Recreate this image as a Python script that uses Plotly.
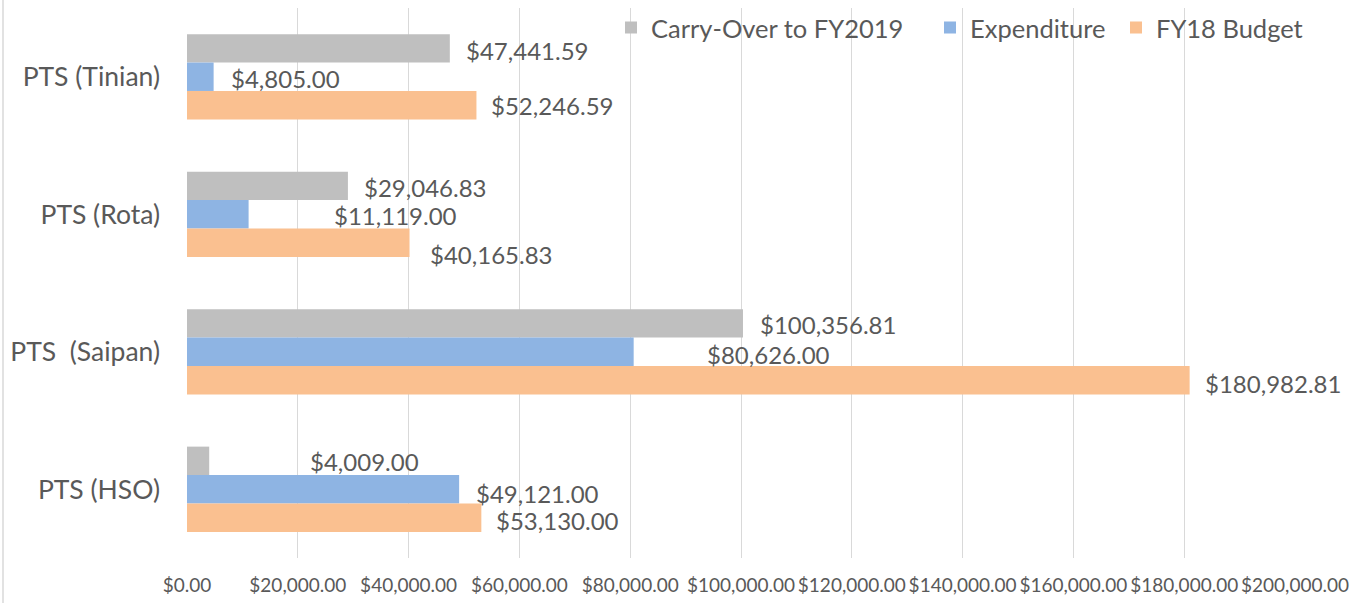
import plotly.graph_objects as go

# ---- data (top-to-bottom reading order) ----
categories = ["PTS (Tinian)", "PTS (Rota)", "PTS \u00a0(Saipan)", "PTS (HSO)"]
series_names = ["Carry-Over to FY2019", "Expenditure", "FY18 Budget"]
carry_over = [47441.59, 29046.83, 100356.81, 4009.00]
expenditure = [4805.00, 11119.00, 80626.00, 49121.00]
fy18_budget = [52246.59, 40165.83, 180982.81, 53130.00]
x_tick_values = [0, 20000, 40000, 60000, 80000, 100000, 120000, 140000, 160000, 180000, 200000]

# ---- style ----
colors = ["#BFBFBF", "#8EB4E3", "#FAC090"]
text_color = "#595959"
grid_color = "#D9D9D9"
FONT = "Lato"

# per-label pixel nudges (dx right, dy down), mimicking the hand-placed labels
label_nudges = [
    [(17, 2), (17, 2), (18, 1), (102, 1)],   # carry-over
    [(18, 2), (86, 1.5), (74, 3), (18, 4)],  # expenditure
    [(16, 0), (21, 12), (16, 3), (16, 3)],   # budget
]

W, H = 1363, 603
ML, MR, MT, MB = 187, 68, 8, 45
plot_h = H - MT - MB
bargap = 0.38
bar_px = plot_h / len(categories) * (1 - bargap) / 3
bar_offsets = [bar_px, 0, -bar_px]  # vertical pixel offset of each series' bar centre

fig = go.Figure()
all_series = [carry_over, expenditure, fy18_budget]
legend_ids = ["legend", "legend2", "legend3"]
for i, (name, vals) in enumerate(zip(series_names, all_series)):
    fig.add_trace(go.Bar(
        y=categories, x=vals, name=name, orientation="h",
        marker=dict(color=colors[i], line=dict(width=0)),
        legend=legend_ids[i], hoverinfo="x+name",
    ))

annotations = []
for i, vals in enumerate(all_series):
    for j, v in enumerate(vals):
        dx, dy = label_nudges[i][j]
        annotations.append(dict(
            x=v, y=categories[j], xref="x", yref="y",
            text=f"${v:,.2f}", showarrow=False,
            xanchor="left", yanchor="middle",
            xshift=dx - 3, yshift=bar_offsets[i] - dy,
            font=dict(family=FONT, size=24, color=text_color),
        ))

legend_common = dict(
    orientation="h", yanchor="middle", xanchor="left",
    bgcolor="rgba(0,0,0,0)", font=dict(family=FONT, size=25.5, color=text_color),
)
plot_w = W - ML - MR
legend_item_starts = [611, 930, 1116]
legend_y = 1 - (28 - MT) / plot_h

fig.update_layout(
    width=W, height=H,
    margin=dict(l=ML, r=MR, t=MT, b=MB, autoexpand=False),
    paper_bgcolor="white", plot_bgcolor="white",
    barmode="group", bargap=bargap, bargroupgap=0,
    font=dict(family=FONT, color=text_color),
    xaxis=dict(
        range=[0, 200000], tickvals=x_tick_values, tickformat="$,.2f",
        showgrid=True, gridcolor=grid_color, gridwidth=1, zeroline=False,
        showline=False, ticks="", ticklabelstandoff=14, automargin=False,
        tickfont=dict(family=FONT, size=19, color=text_color),
    ),
    yaxis=dict(
        autorange="reversed", showgrid=False, zeroline=False, showline=False,
        ticks="", ticklabelstandoff=26, automargin=False,
        tickfont=dict(family=FONT, size=26.5, color=text_color),
    ),
    legend=dict(**legend_common, x=(legend_item_starts[0] - ML) / plot_w, y=legend_y),
    legend2=dict(**legend_common, x=(legend_item_starts[1] - ML) / plot_w, y=legend_y),
    legend3=dict(**legend_common, x=(legend_item_starts[2] - ML) / plot_w, y=legend_y),
    annotations=annotations,
    shapes=[dict(type="line", xref="paper", yref="paper",
                 x0=(3 - ML) / plot_w, x1=(3 - ML) / plot_w,
                 y0=-MB / plot_h, y1=1 + MT / plot_h,
                 line=dict(color=grid_color, width=1.5))],
    showlegend=True,
)

fig.write_html(
    "out.html",
    config={"displayModeBar": False},
    post_script="document.body.style.margin='0';document.body.style.overflow='hidden';",
)
